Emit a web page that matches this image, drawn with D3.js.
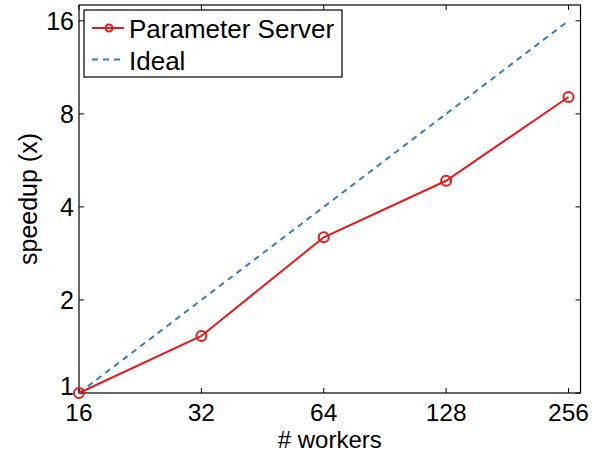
<!DOCTYPE html>
<html><head><meta charset="utf-8">
<script src="https://cdn.jsdelivr.net/npm/d3@7"></script>
<style>body{margin:0;background:#fff}svg{display:block}text{font-family:"Liberation Sans",Arial,Helvetica,sans-serif;fill:#000}</style>
</head><body>
<script>
const workers = [16, 32, 64, 128, 256];
const psSpeedup = [1, 1.53, 3.19, 4.86, 9.07];
const idealSpeedup = [1, 2, 4, 8, 16];
const xTicks = [16, 32, 64, 128, 256];
const yTicks = [1, 2, 4, 8, 16];
const seriesNames = ["Parameter Server", "Ideal"];

const W = 602, H = 453;
const L = 79, R = 580.5, T = 5, B = 393;
const svg = d3.select("body").append("svg").attr("width", W).attr("height", H);

const x = d3.scaleLog().base(2).domain([16, 274]).range([L, R]);
const y = d3.scaleLog().base(2).domain([1, 18]).range([B, T]);
const fs = 25;

// box
svg.append("rect").attr("x", L).attr("y", T).attr("width", R - L).attr("height", B - T)
  .attr("fill", "none").attr("stroke", "#000").attr("stroke-width", 1.2);

// ticks (inward)
const tl = 5;
const gx = svg.append("g");
xTicks.forEach(v => {
  gx.append("line").attr("x1", x(v)).attr("x2", x(v)).attr("y1", B).attr("y2", B - tl).attr("stroke", "#000");
  gx.append("line").attr("x1", x(v)).attr("x2", x(v)).attr("y1", T).attr("y2", T + tl).attr("stroke", "#000");
  gx.append("text").attr("x", x(v)).attr("y", B + 28).attr("text-anchor", "middle")
    .attr("font-size", 24.5).text(v);
});
yTicks.forEach(v => {
  gx.append("line").attr("x1", L).attr("x2", L + tl).attr("y1", y(v)).attr("y2", y(v)).attr("stroke", "#000");
  gx.append("line").attr("x1", R).attr("x2", R - tl).attr("y1", y(v)).attr("y2", y(v)).attr("stroke", "#000");
  gx.append("text").attr("x", L - 5).attr("y", y(v) + (v === 1 ? 2 : 9)).attr("text-anchor", "end")
    .attr("font-size", fs).text(v);
});

// axis labels
svg.append("text").attr("x", (L + R) / 2).attr("y", 448).attr("text-anchor", "middle")
  .attr("font-size", 24).text("# workers");
svg.append("text").attr("transform", `translate(37,${(T + B) / 2}) rotate(-90)`)
  .attr("text-anchor", "middle").attr("font-size", fs).text("speedup (x)");

const line = d3.line().x(d => x(d[0])).y(d => y(d[1]));
const red = "#e41a1c", blue = "#377eb8";

svg.append("path").datum(workers.map((w, i) => [w, idealSpeedup[i]]))
  .attr("d", line).attr("fill", "none").attr("stroke", blue).attr("stroke-width", 2)
  .attr("stroke-dasharray", "6,5");
svg.append("path").datum(workers.map((w, i) => [w, psSpeedup[i]]))
  .attr("d", line).attr("fill", "none").attr("stroke", red).attr("stroke-width", 2);
svg.selectAll("circle.pt").data(workers.map((w, i) => [w, psSpeedup[i]])).enter()
  .append("circle").attr("class", "pt").attr("cx", d => x(d[0])).attr("cy", d => y(d[1]))
  .attr("r", 5).attr("fill", "none").attr("stroke", red).attr("stroke-width", 2);

// legend
const lg = svg.append("g");
lg.append("rect").attr("x", 84).attr("y", 10).attr("width", 258).attr("height", 67)
  .attr("fill", "#fff").attr("stroke", "#000").attr("stroke-width", 1.2);
const rows = [{name: seriesNames[0], c: red, dash: null, marker: true, yy: 28, by: 37.5},
              {name: seriesNames[1], c: blue, dash: "6,5", marker: false, yy: 59.5, by: 69.5}];
rows.forEach(r => {
  lg.append("line").attr("x1", 92).attr("x2", 124).attr("y1", r.yy).attr("y2", r.yy)
    .attr("stroke", r.c).attr("stroke-width", 2).attr("stroke-dasharray", r.dash);
  if (r.marker) lg.append("circle").attr("cx", 109).attr("cy", r.yy).attr("r", 3.5)
    .attr("fill", "none").attr("stroke", r.c).attr("stroke-width", 2);
  lg.append("text").attr("x", 129).attr("y", r.by).attr("font-size", 26).text(r.name);
});
</script>
</body></html>
